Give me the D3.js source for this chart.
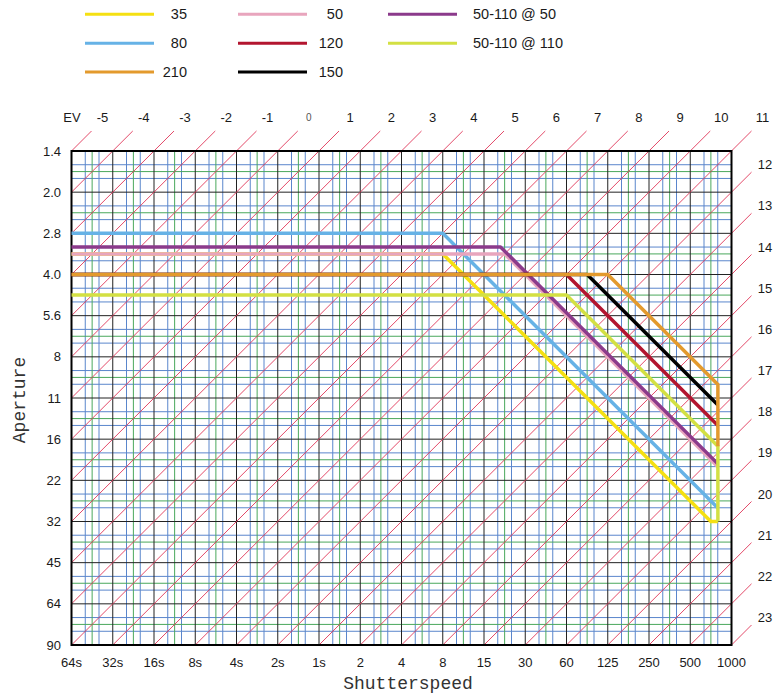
<!doctype html>
<html>
<head>
<style>
body { margin: 0; background: #fff; }
svg { font-family: "Liberation Sans", Arial, Helvetica, sans-serif; }
.tick { font-size: 13px; fill: #1a1a1a; }
.title { font-family: "Liberation Mono", "Courier New", monospace; font-size: 18px; fill: #333; }
.legend text { font-size: 14.5px; fill: #1a1a1a; }
</style>
<script src="https://cdn.jsdelivr.net/npm/d3@7"></script>
</head>
<body>
<svg width="775" height="697"></svg>
<script>
// tick labels
var shutterLabels = ["64s","32s","16s","8s","4s","2s","1s","2","4","8","15","30","60","125","250","500","1000"];
var apertureLabels = ["1.4","2.0","2.8","4.0","5.6","8","11","16","22","32","45","64","90"];
var evLabels = [-5,-4,-3,-2,-1,0,1,2,3,4,5,6,7,8,9,10,11,12,13,14,15,16,17,18,19,20,21,22,23];

// program lines, [shutter stop from 64s, aperture stop from f/1.4]
var lens35  = [[0,2.5],[9,2.5],[15.5,9],[15.67,9]];
var lens80  = [[0,2],[9,2],[15.67,8.67]];
var lens50  = [[0,2.5],[10.5,2.5],[15.67,7.67]];
var zoom50  = [[0,2.33],[10.4,2.33],[15.67,7.6]];
var zoom110 = [[0,3.5],[12,3.5],[15.67,7.17],[15.67,9]];
var lens120 = [[0,3],[12,3],[15.67,6.67]];
var lens150 = [[0,3],[12.5,3],[15.67,6.17]];
var lens210 = [[0,3],[13,3],[15.67,5.67],[15.67,7.17]];

var seriesNames  = ["80","35","50","50-110 @ 50","50-110 @ 110","120","150","210"];
var seriesData   = [lens80, lens35, lens50, zoom50, zoom110, lens120, lens150, lens210];
var seriesColors = ["#66b2e6","#f5e012","#e8a5bd","#8b3a8b","#d3e043","#b3152f","#000000","#e39a2d"];

// legend order as in the picture (column by column)
var legendNames = [["35","80","210"],["50","120","150"],["50-110 @ 50","50-110 @ 110"]];

var svg = d3.select("svg");

var x = d3.scaleLinear().domain([0, 16]).range([71.5, 731.5]);
var y = d3.scaleLinear().domain([0, 12]).range([151, 645]);

var grid = svg.append("g");

// minor lines: thirds blue, halves green
[[1/3,"#5a86cc"],[2/3,"#5a86cc"],[0.5,"#4aa85c"]].forEach(function(m) {
  grid.selectAll(null).data(d3.range(0, 16)).enter().append("line")
    .attr("x1", function(d) { return x(d + m[0]); })
    .attr("x2", function(d) { return x(d + m[0]); })
    .attr("y1", y(0)).attr("y2", y(12))
    .attr("stroke", m[1]).attr("stroke-width", 1);
  grid.selectAll(null).data(d3.range(0, 12)).enter().append("line")
    .attr("y1", function(d) { return y(d + m[0]); })
    .attr("y2", function(d) { return y(d + m[0]); })
    .attr("x1", x(0)).attr("x2", x(16))
    .attr("stroke", m[1]).attr("stroke-width", 1);
});

// major lines
grid.selectAll(null).data(d3.range(1, 16)).enter().append("line")
  .attr("x1", function(d) { return x(d); }).attr("x2", function(d) { return x(d); })
  .attr("y1", y(0)).attr("y2", y(12))
  .attr("stroke", "#222").attr("stroke-width", 1);
grid.selectAll(null).data(d3.range(1, 12)).enter().append("line")
  .attr("y1", function(d) { return y(d); }).attr("y2", function(d) { return y(d); })
  .attr("x1", x(0)).attr("x2", x(16))
  .attr("stroke", "#222").attr("stroke-width", 1);

// EV diagonals, x + y = ev + 5
var ext = 20;
var ev = svg.append("g");
evLabels.forEach(function(e) {
  var k = e + 5;
  var x0 = Math.max(0, k - 12), y0 = k - x0;
  var y1 = Math.max(0, k - 16), x1 = k - y1;
  ev.append("line")
    .attr("x1", x(x0)).attr("y1", y(y0))
    .attr("x2", x(x1) + ext).attr("y2", y(y1) - ext)
    .attr("stroke", "#e03658").attr("stroke-width", 0.9);

  var t = ev.append("text").attr("class", "tick")
    .attr("text-anchor", "middle").attr("dy", "0.35em").text(e);
  if (k <= 16) {
    t.attr("x", x(x1) + 31).attr("y", 117);
  } else {
    t.attr("x", 765).attr("y", y(y1) - 27.5);
  }
  if (e === 0) t.style("font-size", "10px").style("fill", "#555");
});

svg.append("text").attr("class", "tick")
  .attr("x", 72).attr("y", 117).attr("dy", "0.35em")
  .attr("text-anchor", "middle").text("EV");

// border
svg.append("rect")
  .attr("x", x(0)).attr("y", y(0))
  .attr("width", x(16) - x(0)).attr("height", y(12) - y(0))
  .attr("fill", "none").attr("stroke", "#000").attr("stroke-width", 2);

// axis labels
svg.append("g").selectAll("text").data(apertureLabels).enter().append("text")
  .attr("class", "tick")
  .attr("x", 61).attr("y", function(d, i) { return y(i); })
  .attr("dy", "0.35em").attr("text-anchor", "end")
  .text(function(d) { return d; });

svg.append("g").selectAll("text").data(shutterLabels).enter().append("text")
  .attr("class", "tick")
  .attr("x", function(d, i) { return x(i); }).attr("y", 662)
  .attr("dy", "0.35em").attr("text-anchor", "middle")
  .text(function(d) { return d; });

svg.append("text").attr("class", "title")
  .attr("x", 408).attr("y", 689).attr("text-anchor", "middle")
  .text("Shutterspeed");

svg.append("text").attr("class", "title")
  .attr("transform", "translate(25,400) rotate(-90)")
  .attr("text-anchor", "middle")
  .text("Aperture");

// program lines
var line = d3.line()
  .x(function(d) { return x(d[0]); })
  .y(function(d) { return y(d[1]); });

svg.append("g").selectAll("path").data(seriesData).enter().append("path")
  .attr("d", line)
  .attr("fill", "none")
  .attr("stroke", function(d, i) { return seriesColors[i]; })
  .attr("stroke-width", 3.5)
  .attr("stroke-linejoin", "round");

// legend
var colX = [[85, 154, 187, "end"], [238, 307, 343, "end"], [388, 457, 473, "start"]];
var rowY = [14.3, 43.3, 72];
var legend = svg.append("g").attr("class", "legend");
legendNames.forEach(function(col, c) {
  col.forEach(function(name, r) {
    var color = seriesColors[seriesNames.indexOf(name)];
    legend.append("line")
      .attr("x1", colX[c][0]).attr("x2", colX[c][1])
      .attr("y1", rowY[r]).attr("y2", rowY[r])
      .attr("stroke", color).attr("stroke-width", 3);
    legend.append("text")
      .attr("x", colX[c][2]).attr("y", rowY[r]).attr("dy", "0.35em")
      .attr("text-anchor", colX[c][3])
      .text(name);
  });
});
</script>
</body>
</html>
